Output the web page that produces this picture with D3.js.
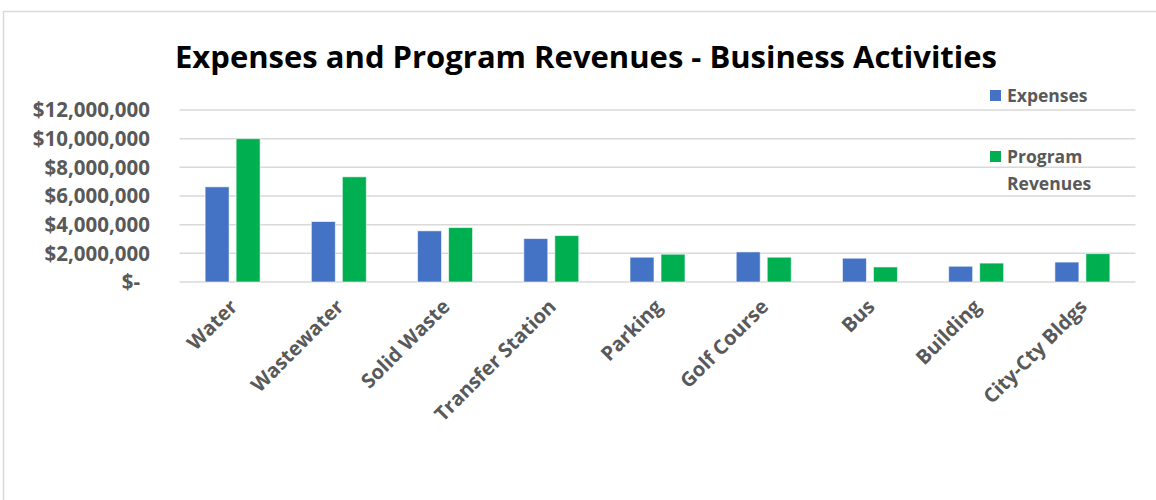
<!DOCTYPE html>
<meta charset="utf-8">
<style>
  body { margin: 0; background: #fff; }
  text { font-family: "Open Sans", "DejaVu Sans", sans-serif; }
</style>
<body>
<script src="https://d3js.org/d3.v7.min.js"></script>
<script>

// data
var categories = ["Water", "Wastewater", "Solid Waste", "Transfer Station", "Parking",
                  "Golf Course", "Bus", "Building", "City-Cty Bldgs"];
var expenses = [6640000, 4220000, 3570000, 3030000, 1730000, 2100000, 1660000, 1100000, 1390000];
var revenues = [10000000, 7340000, 3800000, 3240000, 1940000, 1730000, 1050000, 1320000, 1980000];
var yTicks = [0, 2000000, 4000000, 6000000, 8000000, 10000000, 12000000];
var seriesNames = ["Expenses", "Program Revenues"];
var colors = ["#4472C4", "#00B050"];

var width = 1156, height = 500;
var plotLeft = 179.5, plotRight = 1135.5, plotTop = 110, plotBottom = 282;

var svg = d3.select("body").append("svg")
    .attr("width", width)
    .attr("height", height);

// outer chart border
svg.append("rect")
    .attr("x", 3.5).attr("y", 11.5)
    .attr("width", 1170).attr("height", 520)
    .attr("fill", "none")
    .attr("stroke", "#d9d9d9")
    .attr("stroke-width", 1.5);

var x = d3.scaleBand()
    .domain(categories)
    .range([plotLeft, plotRight]);

var y = d3.scaleLinear()
    .domain([0, 12000000])
    .range([plotBottom, plotTop]);

var barW = 24, gap = 7;

// gridlines
svg.append("g")
  .selectAll("line")
  .data(yTicks)
  .enter().append("line")
    .attr("x1", plotLeft).attr("x2", plotRight)
    .attr("y1", function(d) { return y(d); })
    .attr("y2", function(d) { return y(d); })
    .attr("stroke", "#d9d9d9")
    .attr("stroke-width", 1.5);

// y labels, accounting style
var fmt = d3.format(",");
svg.append("g")
  .selectAll("text")
  .data(yTicks)
  .enter().append("text")
    .attr("x", function(d) { return d === 0 ? 140 : 150; })
    .attr("y", function(d) { return y(d); })
    .attr("dy", "0.35em")
    .attr("text-anchor", "end")
    .attr("font-size", 20.5)
    .attr("font-weight", "bold")
    .attr("fill", "#595959")
    .text(function(d) { return d === 0 ? "$-" : "$" + fmt(d); });

// bars
var series = [expenses, revenues];
series.forEach(function(vals, s) {
  svg.append("g")
    .selectAll("rect")
    .data(vals)
    .enter().append("rect")
      .attr("x", function(d, i) {
        var c = x(categories[i]) + x.bandwidth() / 2;
        return s === 0 ? c - gap / 2 - barW : c + gap / 2;
      })
      .attr("y", function(d) { return y(d); })
      .attr("width", barW)
      .attr("height", function(d) { return plotBottom - y(d); })
      .attr("fill", colors[s])
      .attr("stroke", "#ffffff")
      .attr("stroke-opacity", 0.6)
      .attr("stroke-width", 1);
});

// x labels rotated
svg.append("g")
  .selectAll("text")
  .data(categories)
  .enter().append("text")
    .attr("transform", function(d) {
      var cx = x(d) + x.bandwidth() / 2 + 6;
      return "translate(" + cx + ",308) rotate(-45)";
    })
    .attr("text-anchor", "end")
    .attr("font-size", 20)
    .attr("font-weight", "bold")
    .attr("fill", "#595959")
    .text(function(d) { return d; });

// title
svg.append("text")
    .attr("x", 586)
    .attr("y", 68)
    .attr("text-anchor", "middle")
    .attr("font-size", 30)
    .attr("font-weight", "bold")
    .attr("fill", "#000")
    .attr("textLength", 822)
    .attr("lengthAdjust", "spacingAndGlyphs")
    .text("Expenses and Program Revenues - Business Activities");

// legend
var legend = svg.append("g");
var legendY = [96, 157];
seriesNames.forEach(function(name, i) {
  legend.append("rect")
      .attr("x", 990).attr("y", legendY[i] - 6)
      .attr("width", 11).attr("height", 11)
      .attr("fill", colors[i]);
  var words = i === 0 ? [name] : ["Program", "Revenues"];
  words.forEach(function(w, j) {
    legend.append("text")
        .attr("x", 1007)
        .attr("y", legendY[i] + j * 27)
        .attr("dy", "0.35em")
        .attr("font-size", 17.5)
        .attr("font-weight", "bold")
        .attr("fill", "#595959")
        .text(w);
  });
});

</script>
</body>
